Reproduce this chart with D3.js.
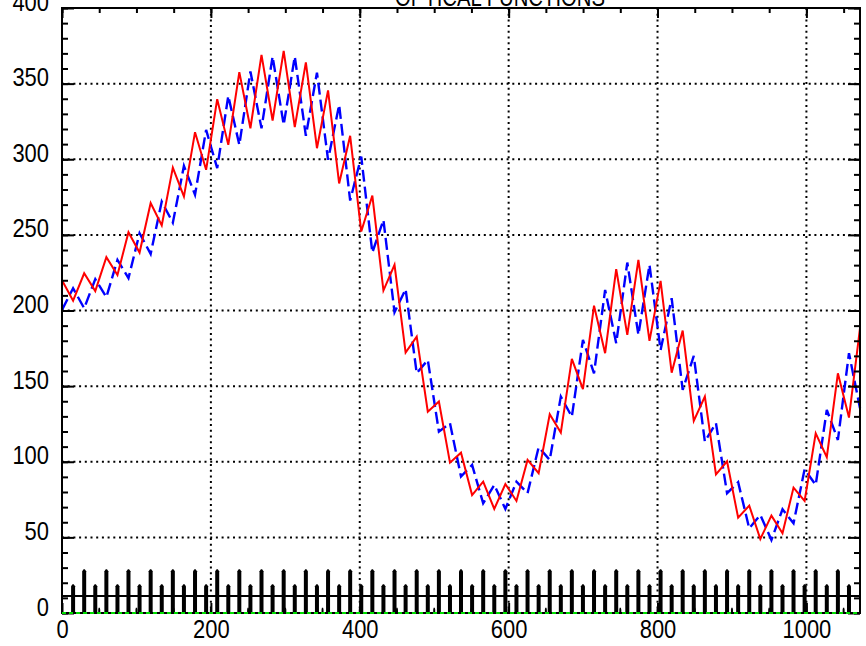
<!DOCTYPE html>
<html>
<head>
<meta charset="utf-8">
<script src="https://cdn.jsdelivr.net/npm/d3@7"></script>
<style>
  html, body { margin: 0; padding: 0; background: #fff; overflow: hidden; }
  svg { display: block; }
  text { font-family: "Liberation Sans", "DejaVu Sans", sans-serif; fill: #000; }
  .axis .tick line { stroke: #000; stroke-width: 2; }
  .grid line { stroke: #000; stroke-width: 2; stroke-dasharray: 2,3.7; }
</style>
</head>
<body>
<svg width="866" height="646"></svg>
<script>
// lattice positions (F quad, D quad alternating)
var s = [0, 14.9, 29.8, 44.7, 59.6, 74.5, 89.3, 104.2, 119.1, 134, 148.9, 163.8, 178.7, 193.6,
  208.5, 223.4, 238.2, 253.1, 268, 282.9, 297.8, 312.7, 327.6, 342.5, 357.4, 372.3, 387.1, 402,
  416.9, 431.8, 446.7, 461.6, 476.5, 491.4, 506.3, 521.2, 536, 550.9, 565.8, 580.7, 595.6, 610.5,
  625.4, 640.3, 655.2, 670.1, 684.9, 699.8, 714.7, 729.6, 744.5, 759.4, 774.3, 789.2, 804.1, 819,
  833.8, 848.7, 863.6, 878.5, 893.4, 908.3, 923.2, 938.1, 953, 967.9, 982.7, 997.6, 1012.5, 1027.4,
  1042.3, 1057.2, 1072];

var betaRed = [220, 206.5, 224.6, 212.8, 235.3, 223.5, 251.8, 238.3, 271.1, 256.3, 294.5, 275.3,
  317.9, 293, 339.7, 309.5, 357.6, 320.5, 369, 325.6, 371.7, 321.2, 364, 307.3, 345.5, 284, 315.5,
  252.2, 276, 213.2, 230.2, 172.2, 182.7, 133.1, 139.8, 99.4, 106, 78, 86.8, 68.8, 85.3, 74.1,
  101.2, 92.4, 131.4, 119.3, 168, 148, 203.2, 171.8, 227.3, 183.9, 233.5, 179.9, 219.6, 158.9,
  186.7, 127, 143.1, 91.7, 100.3, 63, 71, 48.9, 64.4, 52.7, 82.9, 74.1, 118.8, 103, 158.5, 129.2, 188.3];

var betaBlue = [200.4, 214.7, 201.5, 220.7, 208.8, 233.5, 221.4, 251.1, 237.4, 272, 258, 295.6,
  276.5, 319.4, 294.1, 341.9, 309.5, 358, 320.5, 367.9, 322.8, 367.9, 315.5, 357.3, 299.6, 336,
  272.7, 301.8, 238.3, 259.9, 198.9, 214.1, 158.5, 167.3, 119.9, 125.5, 90.2, 97.9, 72.5, 84.7,
  68.8, 86.8, 79.2, 109.6, 101.2, 143.1, 129.8, 180.6, 158.5, 213.6, 178.4, 231.7, 183.9, 230.2,
  173.9, 208.1, 147.5, 170, 113.3, 125.5, 79.2, 86.5, 56, 64.8, 48.3, 68.6, 59.3, 95, 84.7, 134.3,
  114.4, 171.8, 135.4];

var monitors = [50, 100, 150, 200, 250, 300, 350, 400, 450, 500, 550, 600, 650, 700, 750, 800,
  850, 900, 950, 1000, 1050];

var magHeight = {F: 29, D: 19, M: 3.5},
    layoutLine = 11.2;

var xTicks = [0, 200, 400, 600, 800, 1000],
    yTicks = [0, 50, 100, 150, 200, 250, 300, 350, 400],
    title = "OPTICAL  FUNCTIONS";

var svg = d3.select("svg"),
    margin = {top: 8, right: 6, bottom: 33, left: 62},
    width = +svg.attr("width") - margin.left - margin.right,
    height = +svg.attr("height") - margin.top - margin.bottom,
    g = svg.append("g").attr("transform", "translate(" + margin.left + "," + margin.top + ")");

var x = d3.scaleLinear()
    .domain([0, 1072])
    .range([0, width]);

var y = d3.scaleLinear()
    .domain([0, 400])
    .range([height, 0]);

var line = d3.line()
    .x(function(d, i) { return x(s[i]); })
    .y(function(d) { return y(d); });

// grid
g.append("g")
    .attr("class", "grid")
  .selectAll("line.v")
  .data(xTicks.slice(1))
  .enter().append("line")
    .attr("x1", d => x(d)).attr("x2", d => x(d))
    .attr("y1", 0).attr("y2", height);

g.select(".grid").selectAll("line.h")
  .data(yTicks.slice(1, -1))
  .enter().append("line")
    .attr("x1", 0).attr("x2", width)
    .attr("y1", d => y(d)).attr("y2", d => y(d));

// magnet layout
var mags = [];
s.forEach(function(d, i) {
  if (d > 0 && d < 1072) mags.push({s: d, h: i % 2 === 0 ? magHeight.F : magHeight.D});
});
monitors.forEach(function(d) { mags.push({s: d, h: magHeight.M}); });

g.append("line")
    .attr("x1", 0).attr("x2", width)
    .attr("y1", y(layoutLine)).attr("y2", y(layoutLine))
    .attr("stroke", "#000").attr("stroke-width", 2);

g.append("g").selectAll("path")
  .data(mags)
  .enter().append("path")
    .attr("fill", "#000")
    .attr("d", function(d) {
      var cx = x(d.s), y0 = y(0), yt = y(d.h), w = d.h > 5 ? 2 : 1;
      return "M" + (cx - w) + "," + y0 + "L" + (cx - w) + "," + (yt + 2) +
             "L" + (cx - 0.6) + "," + yt + "L" + (cx + 0.6) + "," + yt +
             "L" + (cx + w) + "," + (yt + 2) + "L" + (cx + w) + "," + y0 + "Z";
    });

// curves
g.append("path")
    .datum(betaBlue)
    .attr("fill", "none")
    .attr("stroke", "#0000ff")
    .attr("stroke-width", 2.4)
    .attr("stroke-dasharray", "12,5")
    .attr("d", line);

g.append("path")
    .datum(betaRed)
    .attr("fill", "none")
    .attr("stroke", "#ff0000")
    .attr("stroke-width", 2)
    .attr("d", line);

// axes
var yMinor = d3.range(0, 401, 10),
    xMinor = d3.range(0, 1072, 50);

var gl = g.append("g").attr("class", "axis")
    .call(d3.axisLeft(y).tickValues(yTicks).tickSize(-12).tickPadding(13).tickFormat(d3.format("d")));
g.append("g").attr("class", "axis")
    .call(d3.axisLeft(y).tickValues(yMinor).tickSize(-6).tickFormat(""));
g.append("g").attr("class", "axis")
    .attr("transform", "translate(" + width + ",0)")
    .call(d3.axisRight(y).tickValues(yTicks).tickSize(-12).tickFormat(""));
g.append("g").attr("class", "axis")
    .attr("transform", "translate(" + width + ",0)")
    .call(d3.axisRight(y).tickValues(yMinor).tickSize(-6).tickFormat(""));
g.append("g").attr("class", "axis")
    .call(d3.axisTop(x).tickValues(xTicks).tickSize(-10).tickFormat(""));
g.append("g").attr("class", "axis")
    .call(d3.axisTop(x).tickValues(xMinor).tickSize(-5).tickFormat(""));
var gb = g.append("g").attr("class", "axis")
    .attr("transform", "translate(0," + height + ")")
    .call(d3.axisBottom(x).tickValues(xTicks).tickSize(-10).tickPadding(7).tickFormat(d3.format("d")));

g.selectAll(".axis .domain").remove();
g.selectAll(".axis text")
    .attr("font-family", null)
    .attr("font-size", null)
    .style("font-size", "26px")
    .attr("lengthAdjust", "spacingAndGlyphs")
    .attr("textLength", function() { return this.textContent.length * 12.2; });
gl.selectAll("text").attr("dy", 2);

// frame
g.append("rect")
    .attr("width", width).attr("height", height)
    .attr("fill", "none").attr("stroke", "#000").attr("stroke-width", 2);

// green zero line
g.append("line")
    .attr("x1", 0).attr("x2", width)
    .attr("y1", y(0)).attr("y2", y(0))
    .attr("stroke", "#00dd00").attr("stroke-width", 2)
    .attr("stroke-dasharray", "4,3");

svg.append("text")
    .attr("x", 500).attr("y", 5.5)
    .attr("text-anchor", "middle")
    .attr("textLength", 210)
    .attr("lengthAdjust", "spacingAndGlyphs")
    .style("font-size", "26px")
    .text(title);
</script>
</body>
</html>
